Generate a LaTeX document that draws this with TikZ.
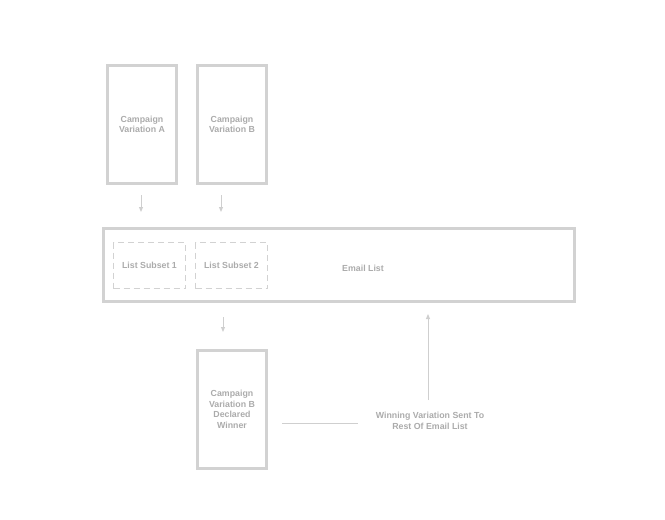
\documentclass[tikz,border=0pt]{standalone}
\usepackage{fontspec}
\setmainfont{Liberation Sans}
\usetikzlibrary{arrows.meta}
\definecolor{boxgray}{HTML}{D2D2D2}
\definecolor{txtgray}{HTML}{ABABAB}
\definecolor{linegray}{HTML}{CFCFCF}
\begin{document}
\begin{tikzpicture}[x=1pt,y=-1pt,
  card/.style={draw=boxgray,line width=3.8pt,minimum width=69pt,minimum height=118pt,inner sep=0pt,text=txtgray,font=\fontsize{8.8}{10.5}\selectfont\bfseries,align=center},
  subset/.style={draw=boxgray,line width=1.4pt,dash pattern=on 6pt off 4pt,minimum width=72pt,minimum height=46pt,inner sep=0pt,text=txtgray,font=\fontsize{8.8}{10.5}\selectfont\bfseries},
  lbl/.style={text=txtgray,font=\fontsize{8.8}{10.5}\selectfont\bfseries,align=center,inner sep=0pt},
  conn/.style={draw=linegray,line width=0.9pt},
  arr/.style={conn,-{Triangle[length=5pt,width=4pt]}}]
\useasboundingbox (0,0) rectangle (665,520);
\node[card] (a) at (142,124.5) {Campaign\\Variation A};
\node[card] (b) at (232,124.5) {Campaign\\Variation B};
\node[draw=boxgray,line width=3.8pt,minimum width=471pt,minimum height=73pt,inner sep=0pt] (list) at (339,265) {};
\node[lbl] (listlbl) at (363,268) {Email List};
\node[subset] (s1) at (149.5,265.5) {List Subset 1};
\node[subset] (s2) at (231.5,265.5) {List Subset 2};
\node[card] (w) at (232,409.5) {Campaign\\Variation B\\Declared\\Winner};
\node[lbl] (win) at (430,421) {Winning Variation Sent To\\Rest Of Email List};
\coordinate (a1) at (141,195); \coordinate (a2) at (141,212);
\coordinate (b1) at (221,195); \coordinate (b2) at (221,212);
\coordinate (c1) at (223,317); \coordinate (c2) at (223,332);
\coordinate (l1) at (282,423.5); \coordinate (l2) at (358,423.5);
\coordinate (u1) at (428,400); \coordinate (u2) at (428,314);
\draw[arr] (a1) -- (a2);
\draw[arr] (b1) -- (b2);
\draw[arr] (c1) -- (c2);
\draw[conn] (l1) -- (l2);
\draw[arr] (u1) -- (u2);
\end{tikzpicture}
\end{document}
